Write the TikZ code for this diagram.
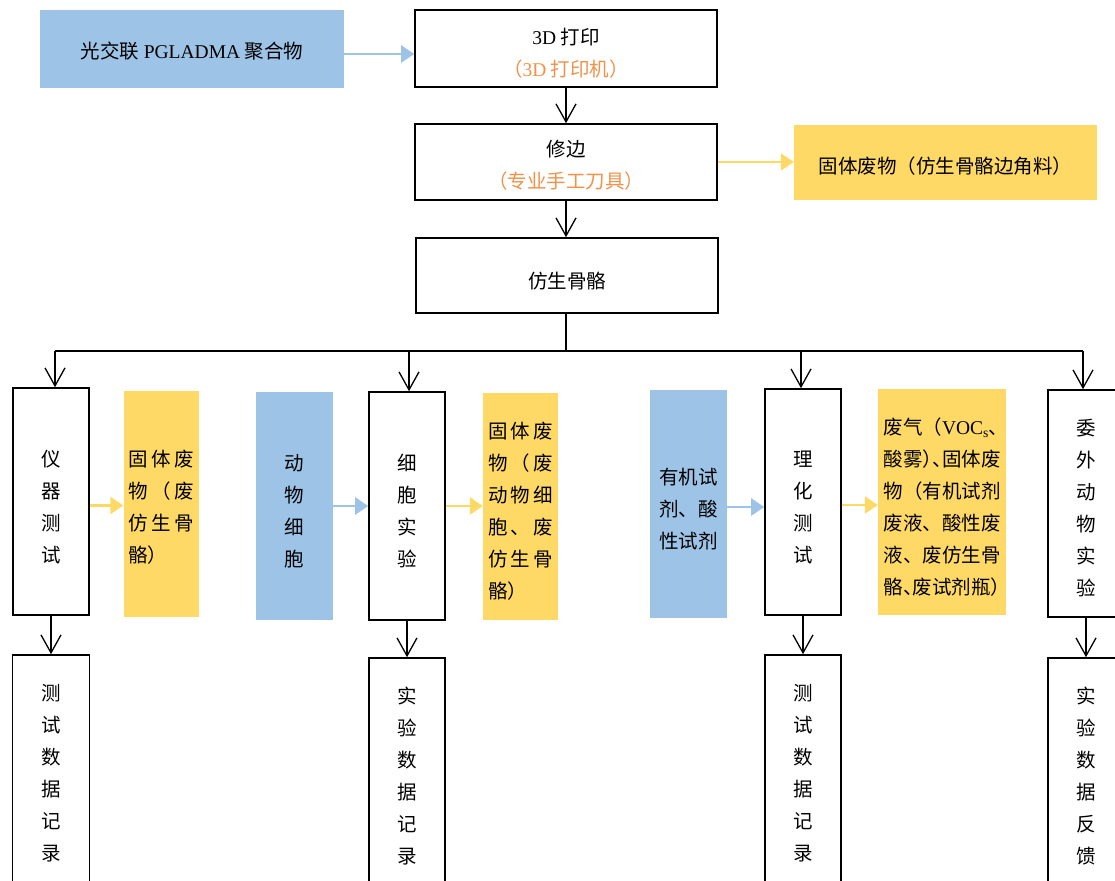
\documentclass[tikz,border=0pt]{standalone}
\usepackage{fontspec}
\setmainfont{Noto Sans CJK SC}
\newfontfamily\lat{Liberation Serif}
\usetikzlibrary{arrows.meta}
\definecolor{bfill}{HTML}{9DC3E6}
\definecolor{yfill}{HTML}{FFD966}
\definecolor{otext}{HTML}{F0924A}
\newcommand\jline[2][66pt]{\makebox[#1][s]{#2}}
\begin{document}
\begin{tikzpicture}[x=1pt,y=-1pt,
  every node/.style={font=\fontsize{19.5}{32}\selectfont, inner sep=0pt, align=center},
  box/.style={draw=black, line width=1.6pt, fill=white},
  bbox/.style={fill=bfill},
  ybox/.style={fill=yfill},
  tx/.style={label={[yshift=-5pt]center:{#1}}},
  arr/.style={draw=black, line width=1.3pt, -{Straight Barb[length=18pt,width=20pt,line width=1.3pt]}},
  barr/.style={draw=bfill, line width=2.6pt, -{Triangle[length=13pt,width=17pt]}},
  yarr/.style={draw=yfill, line width=2.6pt, -{Triangle[length=13pt,width=17pt]}},
  bus/.style={draw=black, line width=1.3pt},
]
\useasboundingbox (0,0) rectangle (1115,880);

% top chain
\node[bbox, minimum width=304pt, minimum height=78pt, label={[yshift=-2pt]center:{光交联 {\lat PGLADMA} 聚合物}}] (src) at (192,49) {};
\node[box, minimum width=302pt, minimum height=77pt, tx={{\lat 3D} 打印\\\textcolor{otext}{（{\lat 3D} 打印机）}}] (print) at (566,48.5) {};
\node[box, minimum width=302pt, minimum height=76pt, label={[yshift=-3.5pt]center:{修边\\\textcolor{otext}{（专业手工刀具）}}}] (trim) at (566,162) {};
\node[ybox, minimum width=303pt, minimum height=75pt, label={[yshift=-4pt]center:{固体废物（仿生骨骼边角料）}}] (w0) at (945.5,162.5) {};
\node[box, minimum width=302pt, minimum height=75pt, label={[yshift=-6pt]center:{仿生骨骼}}] (bone) at (567,275.5) {};

% row 2
\node[box, minimum width=76pt, minimum height=227pt, label={[yshift=-6pt]center:{仪\\器\\测\\试}}] (t1) at (51,501.5) {};
\node[ybox, minimum width=75pt, minimum height=226pt, label={[yshift=-3.5pt, text width=66pt, align=left]center:{\jline{固\hfill{}体\hfill{}废}\\\jline{物\hfill{}（\hfill{}废}\\\jline{仿\hfill{}生\hfill{}骨}\\骼）}}] (w1) at (161,504) {};
\node[bbox, minimum width=77pt, minimum height=228pt, tx={动\\物\\细\\胞}] (c1) at (294.5,506) {};
\node[box, minimum width=76pt, minimum height=228pt, tx={细\\胞\\实\\验}] (t2) at (407,506) {};
\node[ybox, minimum width=75pt, minimum height=227pt, label={[yshift=-5pt, text width=65pt, align=left]center:{\jline[65pt]{固\hfill{}体\hfill{}废}\\\jline[65pt]{物\hfill{}（\hfill{}废}\\\jline[65pt]{动\hfill{}物\hfill{}细}\\\jline[65pt]{胞\hfill{}、\hfill{}废}\\\jline[65pt]{仿\hfill{}生\hfill{}骨}\\骼）}}] (w2) at (520.5,506.5) {};
\node[bbox, minimum width=77pt, minimum height=228pt, tx={有机试\\剂、酸\\性试剂}] (c2) at (688.5,504) {};
\node[box, minimum width=76pt, minimum height=226pt, label={[yshift=-6pt]center:{理\\化\\测\\试}}] (t3) at (803,502) {};
\node[ybox, minimum width=128pt, minimum height=226pt, label={[yshift=-5pt, text width=117pt, align=left]center:{废气（{\lat VOC\textsubscript{s}}、\\酸雾）\kern-.5em{}、\kern-.5em{}固体废\\物（有机试剂\\废液、酸性废\\液、废仿生骨\\骼、\kern-.5em{}废试剂瓶）}}] (w3) at (942,502) {};
\node[box, minimum width=76pt, minimum height=227pt, tx={委\\外\\动\\物\\实\\验}] (t4) at (1086,503.5) {};

% row 3
\node[box, minimum width=77pt, minimum height=235pt, label={[yshift=-1pt]center:{测\\试\\数\\据\\记\\录}}] (r1) at (51,772.5) {};
\node[box, minimum width=76pt, minimum height=235pt, label={[yshift=-1pt]center:{实\\验\\数\\据\\记\\录}}] (r2) at (407,775.5) {};
\node[box, minimum width=76pt, minimum height=235pt, label={[yshift=-1pt]center:{测\\试\\数\\据\\记\\录}}] (r3) at (803,772.5) {};
\node[box, minimum width=76pt, minimum height=235pt, label={[yshift=-1pt]center:{实\\验\\数\\据\\反\\馈}}] (r4) at (1086,775.5) {};

% connectors top
\draw[barr] ([yshift=-5pt]src.east) -- ([yshift=-5pt]src.east -| print.west);
\draw[arr] (print.south) -- (trim.north);
\draw[yarr] (trim.east) -- (trim.east -| w0.west);
\draw[arr] (trim.south) -- (trim.south |- bone.north);

% bus
\coordinate (bj) at (566,351);
\coordinate (b1) at ([xshift=4pt]t1.north);
\coordinate (b2) at ([xshift=2pt]t2.north);
\coordinate (b3) at ([xshift=-2pt]t3.north);
\coordinate (b4) at ([xshift=-3pt]t4.north);
\draw[bus] (bone.south -| bj) -- (bj);
\draw[bus] (b1 |- bj) -- (b4 |- bj);
\draw[arr] (b1 |- bj) -- (b1);
\draw[arr] (b2 |- bj) -- (b2);
\draw[arr] (b3 |- bj) -- (b3);
\draw[arr] (b4 |- bj) -- (b4);

% side arrows
\draw[yarr] ([yshift=-4pt]t1.east) -- ([yshift=-4pt]t1.east -| w1.west);
\draw[barr] (c1.east) -- (c1.east -| t2.west);
\draw[yarr] (t2.east) -- (t2.east -| w2.west);
\draw[barr] ([yshift=-3pt]c2.east) -- ([yshift=-3pt]c2.east -| t3.west);
\draw[yarr] ([yshift=-3pt]t3.east) -- ([yshift=-3pt]t3.east -| w3.west);

% down arrows
\draw[arr] (t1.south) -- (r1.north);
\draw[arr] (t2.south) -- (r2.north);
\draw[arr] (t3.south) -- (r3.north);
\draw[arr] (t4.south) -- (r4.north);
\end{tikzpicture}
\end{document}
